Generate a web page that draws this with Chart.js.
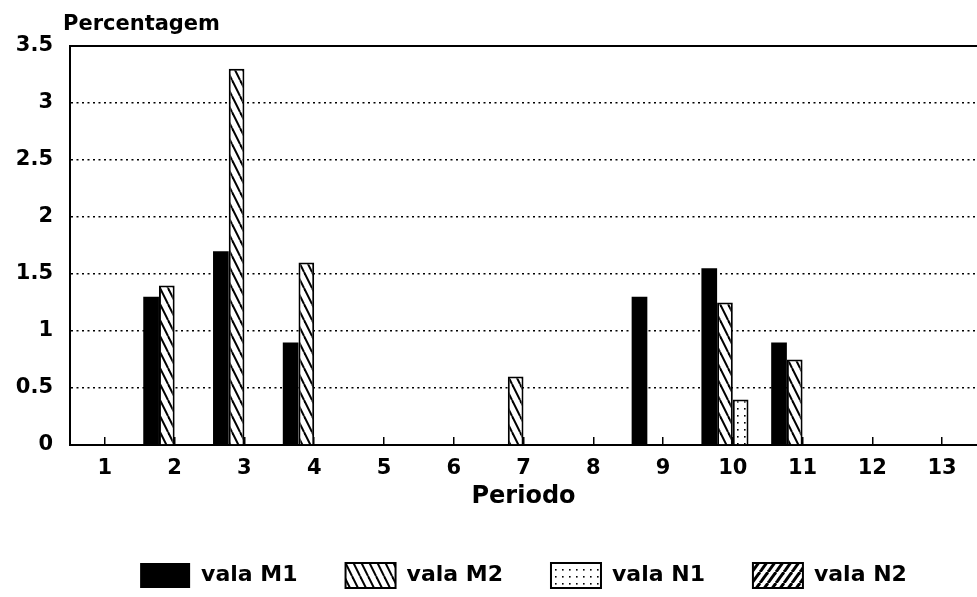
<!DOCTYPE html>
<html>
<head>
<meta charset="utf-8">
<script src="https://cdn.jsdelivr.net/npm/chart.js@4.4.0/dist/chart.umd.min.js"></script>
<style>
  html, body { margin: 0; padding: 0; background: #fff; }
</style>
</head>
<body>
<canvas id="chart" width="977" height="597"></canvas>
<script>
const periods = ['1', '2', '3', '4', '5', '6', '7', '8', '9', '10', '11', '12', '13'];
const valaM1 = [null, 1.3, 1.7, 0.9, null, null, null, null, 1.3, 1.55, 0.9, null, null];
const valaM2 = [null, 1.4, 3.3, 1.6, null, null, 0.6, null, null, 1.25, 0.75, null, null];
const valaN1 = [null, null, null, null, null, null, null, null, null, 0.4, null, null, null];
const valaN2 = [null, null, null, null, null, null, null, null, null, null, null, null, null];
const yTicks = [0, 0.5, 1, 1.5, 2, 2.5, 3, 3.5];
const yTitle = 'Percentagem';
const xTitle = 'Periodo';

const FONT = '"DejaVu Sans", "Liberation Sans", Arial, sans-serif';

// fill patterns like the old printer hatching
function makePattern(kind) {
  const c = document.createElement('canvas');
  const g = c.getContext('2d');
  let w = 8, h = 8;
  if (kind === 'back') { w = 8; h = 16; }
  if (kind === 'fwd') { w = 8; h = 11; }
  if (kind === 'dots') { w = 7; h = 7; }
  c.width = w; c.height = h;
  g.fillStyle = '#fff';
  g.fillRect(0, 0, w, h);
  g.strokeStyle = '#000';
  g.fillStyle = '#000';
  if (kind === 'back') {
    g.lineWidth = 2;
    for (const dx of [-w, 0, w]) {
      g.beginPath(); g.moveTo(dx, 0); g.lineTo(dx + w, h); g.stroke();
    }
  } else if (kind === 'fwd') {
    g.lineWidth = 3;
    for (const dx of [-w, 0, w]) {
      g.beginPath(); g.moveTo(dx, h); g.lineTo(dx + w, 0); g.stroke();
    }
  } else if (kind === 'dots') {
    g.fillRect(2, 2, 1.6, 1.6);
  }
  return g.createPattern(c, 'repeat');
}

const topFrame = {
  id: 'topFrame',
  afterDraw(chart) {
    const { ctx, chartArea: a } = chart;
    ctx.save();
    ctx.strokeStyle = '#000';
    ctx.lineWidth = 2;
    ctx.beginPath();
    ctx.moveTo(a.left, a.top);
    ctx.lineTo(a.right, a.top);
    ctx.stroke();
    ctx.fillStyle = '#000';
    ctx.font = 'bold 21px ' + FONT;
    ctx.textBaseline = 'middle';
    ctx.textAlign = 'left';
    ctx.fillText(yTitle, a.left - 7, a.top - 21);
    ctx.restore();
  }
};

new Chart(document.getElementById('chart'), {
  type: 'bar',
  data: {
    labels: periods,
    datasets: [
      { label: 'vala M1', data: valaM1, backgroundColor: '#000', borderColor: '#000', borderWidth: 0 },
      { label: 'vala M2', data: valaM2, backgroundColor: makePattern('back'), borderColor: '#000', borderWidth: 2 },
      { label: 'vala N1', data: valaN1, backgroundColor: makePattern('dots'), borderColor: '#000', borderWidth: 2 },
      { label: 'vala N2', data: valaN2, backgroundColor: makePattern('fwd'), borderColor: '#000', borderWidth: 2 }
    ]
  },
  options: {
    responsive: false,
    animation: false,
    events: [],
    categoryPercentage: 0.9,
    barPercentage: 1.0,
    layout: { padding: { left: 0, right: -14, top: 46, bottom: -1 } },
    scales: {
      x: {
        offset: true,
        grid: { display: true, drawOnChartArea: false, offset: false, tickLength: -8, color: '#000', lineWidth: 1.5 },
        border: { display: true, color: '#000', width: 2 },
        ticks: { color: '#000', padding: 19, maxRotation: 0, font: { family: FONT, size: 21, weight: 'bold' } },
        title: { display: true, text: xTitle, color: '#000', padding: { top: 0, bottom: 4 }, font: { family: FONT, size: 24, weight: 'bold' } },
        afterFit(s) { s.height = 70; }
      },
      y: {
        min: 0,
        max: 3.5,
        afterBuildTicks(s) { s.ticks = yTicks.map(v => ({ value: v })); },
        grid: {
          drawTicks: false,
          lineWidth: 1.6,
          color: c => (c.tick && (c.tick.value === 0 || c.tick.value === 3.5)) ? 'rgba(0,0,0,0)' : '#000'
        },
        border: { display: true, color: '#000', width: 2, dash: [2, 3.5] },
        ticks: {
          color: '#000',
          padding: 17,
          font: { family: FONT, size: 21, weight: 'bold' },
          callback: v => String(v)
        },
        afterFit(s) { s.width = 70; }
      }
    },
    plugins: {
      legend: {
        position: 'bottom',
        fullSize: false,
        labels: {
          color: '#000',
          boxWidth: 50,
          boxHeight: 25,
          padding: 48,
          font: { family: FONT, size: 22, weight: 'bold' }
        }
      },
      tooltip: { enabled: false }
    }
  },
  plugins: [topFrame]
});
</script>
</body>
</html>
